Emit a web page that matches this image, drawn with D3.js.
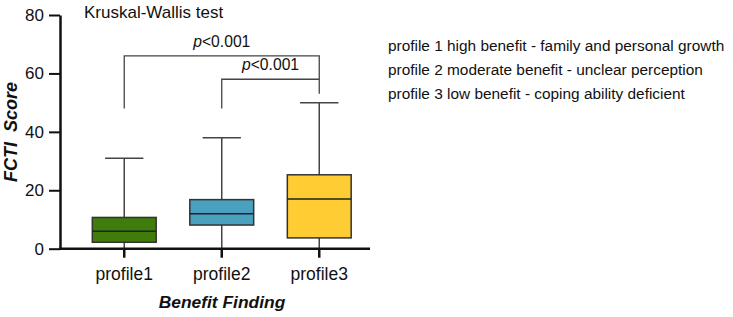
<!DOCTYPE html>
<html>
<head>
<meta charset="utf-8">
<script src="https://cdn.jsdelivr.net/npm/d3@7"></script>
<style>
  body { margin: 0; background: #fff; }
  svg text { font-family: Arial, "Liberation Sans", sans-serif; fill: #111; }
</style>
</head>
<body>
<div id="chart"></div>
<script>
// box plot data
const categories = ['profile1', 'profile2', 'profile3'];
const mins = [0, 0, 0];
const q1s = [2.2, 8.1, 3.7];
const medians = [6.0, 12.0, 17.0];
const q3s = [10.7, 16.8, 25.3];
const maxs = [31, 38, 50];
const colors = ['#3f7c0b', '#4aa0bf', '#ffcc33'];
const yTicks = [0, 20, 40, 60, 80];

// significance brackets
const brackets = [
    { from: 'profile1', to: 'profile3', top: 66, leftEnd: 48, rightEnd: 58, label: '<0.001' },
    { from: 'profile2', to: 'profile3', top: 58, leftEnd: 48, rightEnd: 53, label: '<0.001' }
];

const legendLines = [
    'profile 1 high benefit - family and personal growth',
    'profile 2 moderate benefit - unclear perception',
    'profile 3 low benefit - coping ability deficient'
];

const width = 733, height = 317;
const margin = { left: 60 };

const svg = d3.select('#chart').append('svg')
    .attr('width', width)
    .attr('height', height);

const xScale = d3.scaleBand()
    .domain(categories)
    .range([75.5, 368]);

const yScale = d3.scaleLinear()
    .domain([0, 80])
    .range([248.7, 15]);

const boxW = xScale.bandwidth() * 0.655;
const cx = c => xScale(c) + xScale.bandwidth() / 2;

const boxes = categories.map((c, i) => ({
    key: c, min: mins[i], q1: q1s[i], med: medians[i], q3: q3s[i], max: maxs[i], color: colors[i]
}));

// whiskers
const g = svg.append('g');
g.selectAll('.whisker')
    .data(boxes)
    .enter().append('line')
    .attr('class', 'whisker')
    .attr('x1', d => cx(d.key)).attr('x2', d => cx(d.key))
    .attr('y1', d => yScale(d.min)).attr('y2', d => yScale(d.max))
    .attr('stroke', '#444').attr('stroke-width', 1.5);

g.selectAll('.cap')
    .data(boxes)
    .enter().append('line')
    .attr('class', 'cap')
    .attr('x1', d => cx(d.key) - boxW * 0.3).attr('x2', d => cx(d.key) + boxW * 0.3)
    .attr('y1', d => yScale(d.max)).attr('y2', d => yScale(d.max))
    .attr('stroke', '#444').attr('stroke-width', 1.5);

g.selectAll('.box')
    .data(boxes)
    .enter().append('rect')
    .attr('class', 'box')
    .attr('x', d => cx(d.key) - boxW / 2)
    .attr('y', d => yScale(d.q3))
    .attr('width', boxW)
    .attr('height', d => yScale(d.q1) - yScale(d.q3))
    .attr('fill', d => d.color)
    .attr('stroke', '#333').attr('stroke-width', 1.5);

g.selectAll('.median')
    .data(boxes)
    .enter().append('line')
    .attr('class', 'median')
    .attr('x1', d => cx(d.key) - boxW / 2).attr('x2', d => cx(d.key) + boxW / 2)
    .attr('y1', d => yScale(d.med)).attr('y2', d => yScale(d.med))
    .attr('stroke', '#222').attr('stroke-width', 1.5);

// axes
const yAxis = d3.axisLeft(yScale).tickValues(yTicks).tickSize(11).tickSizeOuter(0).tickPadding(5);
const yAxisG = svg.append('g')
    .attr('transform', `translate(${margin.left},0)`)
    .call(yAxis);
yAxisG.select('.domain').attr('stroke', '#111').attr('stroke-width', 2.5);
yAxisG.selectAll('.tick line').attr('stroke', '#111').attr('stroke-width', 2);
yAxisG.selectAll('.tick text').style('font-size', '17px').attr('fill', '#111')
    .style('font-family', 'Arial, "Liberation Sans", sans-serif');

// x axis line across the plot
svg.append('line')
    .attr('x1', margin.left - 1).attr('x2', 370)
    .attr('y1', yScale(0)).attr('y2', yScale(0))
    .attr('stroke', '#111').attr('stroke-width', 2.5);

const xAxis = d3.axisBottom(xScale).tickSize(9).tickSizeOuter(0).tickPadding(10);
const xAxisG = svg.append('g')
    .attr('transform', `translate(0,${yScale(0)})`)
    .call(xAxis);
xAxisG.select('.domain').remove();
xAxisG.selectAll('.tick line').attr('stroke', '#111').attr('stroke-width', 2.5);
xAxisG.selectAll('.tick text').style('font-size', '17.5px').attr('fill', '#111')
    .style('font-family', 'Arial, "Liberation Sans", sans-serif');

// brackets
brackets.forEach(b => {
    const x1 = cx(b.from), x2 = cx(b.to);
    svg.append('path')
        .attr('d', `M${x1},${yScale(b.leftEnd)}V${yScale(b.top)}H${x2}V${yScale(b.rightEnd)}`)
        .attr('fill', 'none').attr('stroke', '#444').attr('stroke-width', 1.3);
    const t = svg.append('text')
        .attr('x', (x1 + x2) / 2)
        .attr('y', yScale(b.top) - 9)
        .attr('text-anchor', 'middle')
        .style('font-size', '15.7px');
    t.append('tspan').style('font-style', 'italic').text('p');
    t.append('tspan').text(b.label);
});

// titles
svg.append('text')
    .attr('x', 84).attr('y', 18)
    .style('font-size', '17px')
    .text('Kruskal-Wallis test');

svg.append('text')
    .attr('transform', `translate(17,${132}) rotate(-90)`)
    .attr('text-anchor', 'middle')
    .style('font-size', '18px').style('font-weight', 'bold').style('font-style', 'italic')
    .attr('xml:space', 'preserve')
    .text('FCTI  Score');

svg.append('text')
    .attr('x', 222).attr('y', 308)
    .attr('text-anchor', 'middle')
    .style('font-size', '17.4px').style('font-weight', 'bold').style('font-style', 'italic')
    .text('Benefit Finding');

// legend notes
svg.selectAll('.note')
    .data(legendLines)
    .enter().append('text')
    .attr('class', 'note')
    .attr('x', 388)
    .attr('y', (d, i) => 51 + i * 24)
    .style('font-size', '15.4px')
    .text(d => d);
</script>
</body>
</html>
